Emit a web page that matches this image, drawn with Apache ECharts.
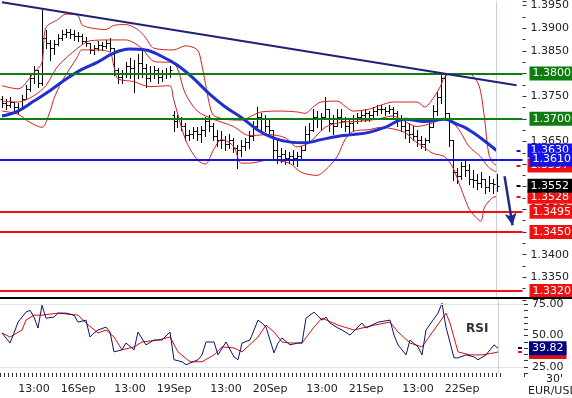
<!DOCTYPE html>
<html>
<head>
<meta charset="utf-8">
<script src="https://cdn.jsdelivr.net/npm/echarts@6/dist/echarts.min.js"></script>
<style>
  html, body { margin: 0; padding: 0; background: #fff; }
  #chart { width: 572px; height: 398px; }
</style>
</head>
<body>
<div id="chart"></div>
<script>
// hourly bars, 15Sep 05:00 -> 22Sep 09:00 (weekend skipped), plus a few empty slots on the right
const days = ['15Sep', '16Sep', '19Sep', '20Sep', '21Sep', '22Sep']
const firstHour = 5
const slotCount = 131

const opens = [
  1.3744, 1.3735, 1.3730, 1.3737, 1.3726, 1.3721, 1.3744, 1.3766, 1.3789, 1.3807,
  1.3778, 1.3879, 1.3868, 1.3856, 1.3865, 1.3879, 1.3888, 1.3892, 1.3886, 1.3883,
  1.3883, 1.3872, 1.3868, 1.3852, 1.3856, 1.3863, 1.3861, 1.3868, 1.3856, 1.3807,
  1.3793, 1.3800, 1.3816, 1.3811, 1.3800, 1.3823, 1.3811, 1.3789, 1.3802, 1.3807,
  1.3793, 1.3798, 1.3802, 1.3708, 1.3694, 1.3699, 1.3685, 1.3665, 1.3667, 1.3672,
  1.3667, 1.3676, 1.3694, 1.3685, 1.3663, 1.3654, 1.3654, 1.3645, 1.3654, 1.3636,
  1.3631, 1.3640, 1.3649, 1.3663, 1.3685, 1.3703, 1.3699, 1.3685, 1.3676, 1.3631,
  1.3618, 1.3622, 1.3613, 1.3618, 1.3613, 1.3618, 1.3631, 1.3667, 1.3676, 1.3703,
  1.3699, 1.3703, 1.3721, 1.3690, 1.3685, 1.3703, 1.3694, 1.3685, 1.3690, 1.3699,
  1.3703, 1.3708, 1.3712, 1.3708, 1.3717, 1.3721, 1.3721, 1.3717, 1.3721, 1.3712,
  1.3699, 1.3685, 1.3676, 1.3667, 1.3663, 1.3654, 1.3645, 1.3654, 1.3681, 1.3717,
  1.3748, 1.3789, 1.3712, 1.3654, 1.3582, 1.3573, 1.3595, 1.3586, 1.3568, 1.3564,
  1.3559, 1.3568, 1.3550, 1.3559, 1.3555
]
const highs = [
  1.3751, 1.3744, 1.3748, 1.3737, 1.3735, 1.3753, 1.3775, 1.3798, 1.3816, 1.3807,
  1.3940, 1.3895, 1.3874, 1.3874, 1.3888, 1.3897, 1.3899, 1.3899, 1.3895, 1.3892,
  1.3886, 1.3881, 1.3868, 1.3863, 1.3872, 1.3870, 1.3874, 1.3879, 1.3856, 1.3811,
  1.3807, 1.3825, 1.3834, 1.3829, 1.3843, 1.3850, 1.3820, 1.3816, 1.3816, 1.3811,
  1.3807, 1.3811, 1.3816, 1.3717, 1.3708, 1.3703, 1.3690, 1.3676, 1.3681, 1.3681,
  1.3685, 1.3703, 1.3708, 1.3690, 1.3676, 1.3672, 1.3663, 1.3667, 1.3658, 1.3642,
  1.3654, 1.3658, 1.3672, 1.3694, 1.3726, 1.3712, 1.3708, 1.3699, 1.3676, 1.3654,
  1.3636, 1.3631, 1.3627, 1.3631, 1.3627, 1.3640, 1.3685, 1.3690, 1.3721, 1.3717,
  1.3712, 1.3748, 1.3721, 1.3708, 1.3721, 1.3721, 1.3703, 1.3699, 1.3708, 1.3712,
  1.3717, 1.3721, 1.3717, 1.3726, 1.3730, 1.3730, 1.3726, 1.3730, 1.3726, 1.3717,
  1.3708, 1.3699, 1.3690, 1.3685, 1.3676, 1.3663, 1.3658, 1.3694, 1.3730, 1.3762,
  1.3802, 1.3798, 1.3712, 1.3654, 1.3591, 1.3604, 1.3609, 1.3600, 1.3586, 1.3577,
  1.3582, 1.3568, 1.3573, 1.3568, 1.3577
]
const lows = [
  1.3726, 1.3721, 1.3726, 1.3717, 1.3712, 1.3721, 1.3744, 1.3762, 1.3780, 1.3771,
  1.3775, 1.3856, 1.3829, 1.3843, 1.3863, 1.3874, 1.3881, 1.3879, 1.3874, 1.3872,
  1.3865, 1.3861, 1.3845, 1.3843, 1.3852, 1.3852, 1.3856, 1.3850, 1.3796, 1.3780,
  1.3778, 1.3793, 1.3789, 1.3760, 1.3789, 1.3793, 1.3771, 1.3784, 1.3789, 1.3780,
  1.3784, 1.3789, 1.3793, 1.3672, 1.3681, 1.3676, 1.3654, 1.3654, 1.3658, 1.3654,
  1.3649, 1.3663, 1.3672, 1.3654, 1.3640, 1.3636, 1.3631, 1.3636, 1.3627, 1.3591,
  1.3618, 1.3631, 1.3636, 1.3654, 1.3681, 1.3676, 1.3672, 1.3663, 1.3609, 1.3602,
  1.3604, 1.3600, 1.3602, 1.3600, 1.3595, 1.3609, 1.3631, 1.3654, 1.3672, 1.3681,
  1.3676, 1.3703, 1.3672, 1.3667, 1.3685, 1.3681, 1.3672, 1.3667, 1.3676, 1.3690,
  1.3694, 1.3694, 1.3694, 1.3703, 1.3708, 1.3712, 1.3708, 1.3712, 1.3703, 1.3685,
  1.3672, 1.3658, 1.3649, 1.3654, 1.3640, 1.3636, 1.3631, 1.3649, 1.3681, 1.3708,
  1.3735, 1.3699, 1.3640, 1.3564, 1.3559, 1.3568, 1.3573, 1.3555, 1.3550, 1.3546,
  1.3550, 1.3537, 1.3541, 1.3537, 1.3541
]
const closes = [
  1.3735, 1.3730, 1.3737, 1.3726, 1.3721, 1.3744, 1.3766, 1.3789, 1.3807, 1.3778,
  1.3879, 1.3868, 1.3856, 1.3865, 1.3879, 1.3888, 1.3892, 1.3886, 1.3883, 1.3883,
  1.3872, 1.3868, 1.3852, 1.3856, 1.3863, 1.3861, 1.3868, 1.3856, 1.3807, 1.3793,
  1.3800, 1.3816, 1.3811, 1.3800, 1.3823, 1.3811, 1.3789, 1.3802, 1.3807, 1.3793,
  1.3798, 1.3802, 1.3807, 1.3694, 1.3699, 1.3685, 1.3665, 1.3667, 1.3672, 1.3667,
  1.3676, 1.3694, 1.3685, 1.3663, 1.3654, 1.3654, 1.3645, 1.3654, 1.3636, 1.3631,
  1.3640, 1.3649, 1.3663, 1.3685, 1.3703, 1.3699, 1.3685, 1.3676, 1.3631, 1.3618,
  1.3622, 1.3613, 1.3618, 1.3613, 1.3618, 1.3631, 1.3667, 1.3676, 1.3703, 1.3699,
  1.3703, 1.3721, 1.3690, 1.3685, 1.3703, 1.3694, 1.3685, 1.3690, 1.3699, 1.3703,
  1.3708, 1.3712, 1.3708, 1.3717, 1.3721, 1.3721, 1.3717, 1.3721, 1.3712, 1.3699,
  1.3685, 1.3676, 1.3667, 1.3663, 1.3654, 1.3645, 1.3654, 1.3681, 1.3717, 1.3748,
  1.3789, 1.3712, 1.3654, 1.3582, 1.3573, 1.3595, 1.3586, 1.3568, 1.3564, 1.3559,
  1.3568, 1.3550, 1.3559, 1.3555, 1.3552
]

// [bar index, value]
const bbUpper = [
  [0, 1.3773], [4, 1.3766], [8, 1.3802], [10, 1.3823], [11, 1.3901], [14, 1.3919], [16, 1.3931],
  [19, 1.3928], [20, 1.3908], [22, 1.3901], [26, 1.3897], [28, 1.3906], [31, 1.3908], [34, 1.3897],
  [36, 1.3879], [38, 1.3856], [43, 1.3852], [46, 1.3861], [49, 1.3852], [50, 1.3823], [51, 1.3778],
  [52, 1.3733], [53, 1.3708], [56, 1.3699], [60, 1.3697], [63, 1.3708], [65, 1.3715], [70, 1.3717],
  [74, 1.3715], [76, 1.3712], [78, 1.3726], [80, 1.3737], [84, 1.3739], [86, 1.3728], [88, 1.3717],
  [92, 1.3721], [95, 1.3730], [98, 1.3737], [104, 1.3737], [106, 1.3726], [108, 1.3744], [110, 1.3773],
  [111, 1.3793], [113, 1.3800], [117, 1.3800], [119, 1.3784], [120, 1.3760], [121, 1.3699],
  [122, 1.3624], [123, 1.3604], [124, 1.3597]
]
const bbMiddle = [
  [0, 1.3739], [4, 1.3737], [8, 1.3751], [11, 1.3773], [14, 1.3816], [19, 1.3856], [22, 1.3872],
  [27, 1.3874], [31, 1.3874], [35, 1.3856], [38, 1.3827], [43, 1.3823], [46, 1.3755], [49, 1.3717],
  [53, 1.3699], [58, 1.3683], [62, 1.3663], [67, 1.3665], [71, 1.3658], [74, 1.3638], [77, 1.3647],
  [81, 1.3681], [85, 1.3692], [89, 1.3694], [94, 1.3699], [98, 1.3706], [101, 1.3694], [104, 1.3683],
  [107, 1.3688], [111, 1.3699], [113, 1.3692], [115, 1.3670], [117, 1.3640], [120, 1.3616],
  [122, 1.3593], [124, 1.3582]
]
const bbLower = [
  [0, 1.3717], [4, 1.3710], [7, 1.3692], [10, 1.3681], [12, 1.3715], [13, 1.3744], [15, 1.3782],
  [19, 1.3838], [20, 1.3852], [23, 1.3852], [27, 1.3847], [28, 1.3818], [29, 1.3789], [33, 1.3782],
  [37, 1.3771], [42, 1.3773], [43, 1.3744], [46, 1.3654], [49, 1.3609], [51, 1.3600], [53, 1.3631],
  [55, 1.3654], [58, 1.3640], [60, 1.3602], [62, 1.3602], [67, 1.3609], [72, 1.3602], [75, 1.3582],
  [79, 1.3575], [81, 1.3586], [84, 1.3616], [86, 1.3654], [88, 1.3672], [92, 1.3676], [95, 1.3681],
  [101, 1.3670], [103, 1.3654], [106, 1.3636], [108, 1.3624], [111, 1.3616], [113, 1.3593],
  [115, 1.3548], [117, 1.3503], [118, 1.3490], [120, 1.3474], [121, 1.3505], [123, 1.3526],
  [124, 1.3528]
]
const movingAvg = [
  [0, 1.3706], [4, 1.3717], [8, 1.3739], [12, 1.3762], [16, 1.3787], [20, 1.3809], [24, 1.3825],
  [28, 1.3845], [32, 1.3854], [36, 1.3852], [40, 1.3838], [44, 1.3818], [48, 1.3789], [52, 1.3755],
  [56, 1.3726], [60, 1.3703], [64, 1.3676], [68, 1.3658], [72, 1.3649], [76, 1.3647], [80, 1.3654],
  [84, 1.3661], [88, 1.3665], [92, 1.3670], [96, 1.3681], [101, 1.3699], [106, 1.3694], [111, 1.3699],
  [114, 1.3688], [116, 1.3681], [118, 1.3670], [121, 1.3651], [124, 1.3630]
]

const rsi = [
  [0, 52.0], [2, 44.0], [3, 52.0], [4, 60.7], [6, 68.7], [7, 70.2], [8, 64.7], [9, 56.0], [10, 74.2],
  [11, 63.9], [13, 64.7], [14, 67.9], [16, 67.9], [18, 66.3], [19, 60.7], [21, 62.3], [22, 48.8],
  [23, 52.0], [24, 54.4], [26, 56.7], [27, 52.8], [28, 36.9], [30, 38.5], [31, 44.0], [33, 38.5],
  [34, 52.8], [36, 42.5], [38, 46.4], [40, 46.4], [42, 52.8], [43, 30.6], [45, 29.0], [46, 26.6],
  [49, 30.6], [50, 34.5], [51, 44.8], [53, 44.8], [54, 34.5], [56, 44.8], [58, 32.9], [59, 30.6],
  [60, 44.0], [62, 46.4], [64, 62.3], [65, 59.9], [66, 56.7], [68, 36.1], [69, 44.0], [70, 48.0],
  [72, 42.5], [74, 44.0], [75, 44.0], [76, 63.9], [78, 68.7], [80, 62.3], [81, 64.7], [82, 59.9],
  [84, 56.0], [85, 54.4], [87, 50.4], [90, 59.9], [91, 56.0], [94, 60.7], [97, 62.3], [98, 50.4],
  [99, 42.5], [101, 34.5], [102, 46.4], [104, 40.9], [105, 34.5], [106, 54.4], [109, 67.9],
  [110, 75.8], [111, 56.7], [113, 32.1], [114, 32.1], [116, 34.5], [118, 32.9], [119, 30.6],
  [121, 34.5], [123, 42.5], [124, 39.82]
]
const rsiAvg = [
  [0, 52.0], [2, 48.8], [5, 54.4], [6, 62.3], [8, 66.3], [10, 66.3], [14, 67.9], [19, 66.3],
  [21, 59.9], [24, 52.0], [26, 54.4], [28, 48.8], [30, 38.5], [33, 40.9], [35, 44.8], [39, 46.4],
  [42, 48.8], [44, 36.9], [47, 29.0], [50, 29.0], [53, 34.5], [55, 40.9], [58, 40.1], [60, 36.9],
  [64, 48.8], [66, 58.3], [68, 52.8], [70, 44.8], [72, 44.0], [75, 44.0], [78, 56.7], [80, 63.9],
  [84, 58.3], [88, 54.4], [93, 58.3], [97, 60.7], [99, 52.8], [102, 44.0], [105, 40.9], [108, 54.4],
  [111, 67.9], [112, 59.9], [114, 36.9], [117, 34.5], [120, 34.5], [123, 36.1], [124, 36.79]
]

const levelValues = [1.3800, 1.3700, 1.3610, 1.3495, 1.3450, 1.3320]
const levelColors = ['#0e7c0e', '#0e7c0e', '#1414e6', '#f01010', '#f01010', '#f01010']
const trendLine = [[0, 1.3957], [129, 1.3774]]
const arrowLine = [[126, 1.3573], [128, 1.3465]]

const font = 'DejaVu Sans'
const lastIdx = closes.length - 1

const categories = []
days.forEach((d, k) => {
  for (let h = k === 0 ? firstHour : 0; h < 24 && categories.length < slotCount; h++) {
    categories.push(d + ' ' + (h < 10 ? '0' + h : h) + ':00')
  }
})
while (categories.length < slotCount) categories.push('')

const bars = closes.map((c, i) => [i, opens[i], highs[i], lows[i], c])

function renderBar(params, api) {
  const i = api.value(0)
  const o = api.coord([i, api.value(1)])
  const h = api.coord([i, api.value(2)])
  const l = api.coord([i, api.value(3)])
  const c = api.coord([i, api.value(4)])
  const x = Math.round(h[0]) + 0.5
  const st = { stroke: '#000', lineWidth: 1 }
  return {
    type: 'group',
    children: [
      { type: 'line', shape: { x1: x, y1: Math.round(h[1]), x2: x, y2: Math.round(l[1]) + 1 }, style: st },
      { type: 'line', shape: { x1: x - 2, y1: Math.round(o[1]) + 0.5, x2: x, y2: Math.round(o[1]) + 0.5 }, style: st },
      { type: 'line', shape: { x1: x, y1: Math.round(c[1]) + 0.5, x2: x + 2, y2: Math.round(c[1]) + 0.5 }, style: st }
    ]
  }
}

function boxLabel(text, bg) {
  return {
    show: true, position: 'end', distance: 7, formatter: text,
    color: '#fff', backgroundColor: bg, fontFamily: font, fontSize: 11,
    lineHeight: 13, padding: [1, 3, 0, 3]
  }
}

function shortMarker(v, color, digits) {
  return [
    { coord: [129, v], lineStyle: { color: color, width: 2, type: 'solid' }, label: boxLabel(v.toFixed(digits), color) },
    { coord: [130, v] }
  ]
}

const chart = echarts.init(document.getElementById('chart'))

chart.setOption({
  animation: false,
  backgroundColor: '#fff',
  grid: [
    { left: 0, top: 0, width: 524, height: 300 },
    { left: 0, top: 298, width: 524, height: 75 }
  ],
  xAxis: [
    { type: 'category', gridIndex: 0, data: categories, show: false },
    {
      type: 'category', gridIndex: 1, data: categories,
      axisLine: { show: false },
      axisTick: {
        show: true, length: 4, lineStyle: { color: '#333' },
        interval: (idx) => idx <= lastIdx + 1
      },
      axisLabel: {
        color: '#222', fontFamily: font, fontSize: 11, margin: 11,
        interval: (idx, val) => idx <= lastIdx && (val.endsWith('00:00') || val.endsWith('13:00')),
        formatter: (val) => {
          const p = val.split(' ')
          return p[1] === '00:00' ? p[0] : p[1]
        }
      }
    }
  ],
  yAxis: [
    {
      type: 'value', gridIndex: 0, position: 'right', min: 1.33, max: 1.396, interval: 0.005,
      axisLine: { show: false },
      axisTick: { show: true, length: 4, lineStyle: { color: '#333' } },
      minorTick: { show: true, splitNumber: 2, length: 3, lineStyle: { color: '#333' } },
      splitLine: { show: false },
      axisLabel: {
        color: '#222', fontFamily: font, fontSize: 11, margin: 8,
        showMinLabel: false, showMaxLabel: false,
        formatter: (v) => v.toFixed(4)
      }
    },
    {
      type: 'value', gridIndex: 1, position: 'right', min: 20, max: 80, interval: 5,
      axisLine: { show: false },
      axisTick: { show: true, length: 4, lineStyle: { color: '#333' } },
      splitLine: { show: false },
      axisLabel: {
        color: '#222', fontFamily: font, fontSize: 11, margin: 8,
        formatter: (v) => (v === 25 || v === 50 || v === 75) ? v.toFixed(2) : ''
      }
    }
  ],
  series: [
    {
      type: 'line', data: [], xAxisIndex: 0, yAxisIndex: 0, z: 1,
      markLine: {
        silent: true, symbol: 'none', label: { show: false }, precision: 4,
        lineStyle: { color: '#c9d1dd', width: 1, type: 'solid' },
        data: [{ xAxis: categories[lastIdx] }]
      }
    },
    {
      type: 'custom', name: 'EUR/USD', data: bars, xAxisIndex: 0, yAxisIndex: 0, z: 2,
      encode: { x: 0, y: [1, 2, 3, 4] },
      renderItem: renderBar
    },
    { type: 'line', data: bbUpper, symbol: 'none', smooth: 0.3, z: 3, lineStyle: { color: '#d42020', width: 1 } },
    { type: 'line', data: bbMiddle, symbol: 'none', smooth: 0.3, z: 3, lineStyle: { color: '#d42020', width: 1 } },
    { type: 'line', data: bbLower, symbol: 'none', smooth: 0.3, z: 3, lineStyle: { color: '#d42020', width: 1 } },
    {
      type: 'line', data: movingAvg, symbol: 'none', smooth: 0.4, z: 4,
      lineStyle: { color: '#1f2fd0', width: 3 },
      markLine: {
        silent: true, symbol: 'none', z: 5, precision: 4,
        data: [
          shortMarker(movingAvg[movingAvg.length - 1][1], '#1414e6', 4),
          shortMarker(bbUpper[bbUpper.length - 1][1], '#f01010', 4),
          shortMarker(bbLower[bbLower.length - 1][1], '#f01010', 4),
          shortMarker(closes[lastIdx], '#000', 4)
        ]
      }
    },
    {
      type: 'line', data: [], xAxisIndex: 0, yAxisIndex: 0, z: 6,
      markLine: {
        silent: true, symbol: 'none', z: 6, precision: 4,
        data: levelValues.map((v, k) => ({
          yAxis: v,
          lineStyle: { color: levelColors[k], width: 2, type: 'solid' },
          label: boxLabel(v.toFixed(4), levelColors[k])
        })).concat([
          [
            { coord: trendLine[0], lineStyle: { color: '#20207a', width: 2, type: 'solid' }, label: { show: false } },
            { coord: trendLine[1] }
          ],
          [
            { coord: arrowLine[0], lineStyle: { color: '#1c2a8c', width: 2.5, type: 'solid' }, label: { show: false } },
            { coord: arrowLine[1], symbol: 'arrow', symbolSize: [9, 12] }
          ]
        ])
      }
    },
    {
      type: 'line', data: [], xAxisIndex: 1, yAxisIndex: 1, z: 1,
      markLine: {
        silent: true, symbol: 'none', label: { show: false }, precision: 4,
        data: [
          { yAxis: 75, lineStyle: { color: '#dfe4ec', width: 1, type: 'solid' } },
          { yAxis: 25, lineStyle: { color: '#dfe4ec', width: 1, type: 'solid' } },
          { xAxis: categories[lastIdx], lineStyle: { color: '#c9d1dd', width: 1, type: 'solid' } }
        ]
      }
    },
    {
      type: 'line', data: rsiAvg, xAxisIndex: 1, yAxisIndex: 1, symbol: 'none', z: 3,
      lineStyle: { color: '#d01010', width: 1 },
      markLine: {
        silent: true, symbol: 'none', z: 5, precision: 4,
        data: [shortMarker(rsiAvg[rsiAvg.length - 1][1], '#e01010', 2)]
      }
    },
    {
      type: 'line', data: rsi, xAxisIndex: 1, yAxisIndex: 1, symbol: 'none', z: 4,
      lineStyle: { color: '#10106e', width: 1 },
      markLine: {
        silent: true, symbol: 'none', z: 6, precision: 4,
        data: [shortMarker(rsi[rsi.length - 1][1], '#000080', 2)]
      }
    }
  ],
  graphic: [
    { type: 'line', shape: { x1: 0, y1: 298, x2: 572, y2: 298 }, style: { stroke: '#000', lineWidth: 2 }, z: 100 },
    { type: 'text', left: 466, top: 323, style: { text: 'RSI', font: 'bold 12px "DejaVu Sans"', fill: '#333' } },
    { type: 'text', left: 546, top: 374, style: { text: "30'", font: '11px "DejaVu Sans"', fill: '#222' } },
    { type: 'text', left: 528, top: 386, style: { text: 'EUR/USD', font: '11px "DejaVu Sans"', fill: '#222' } }
  ]
})
</script>
</body>
</html>
